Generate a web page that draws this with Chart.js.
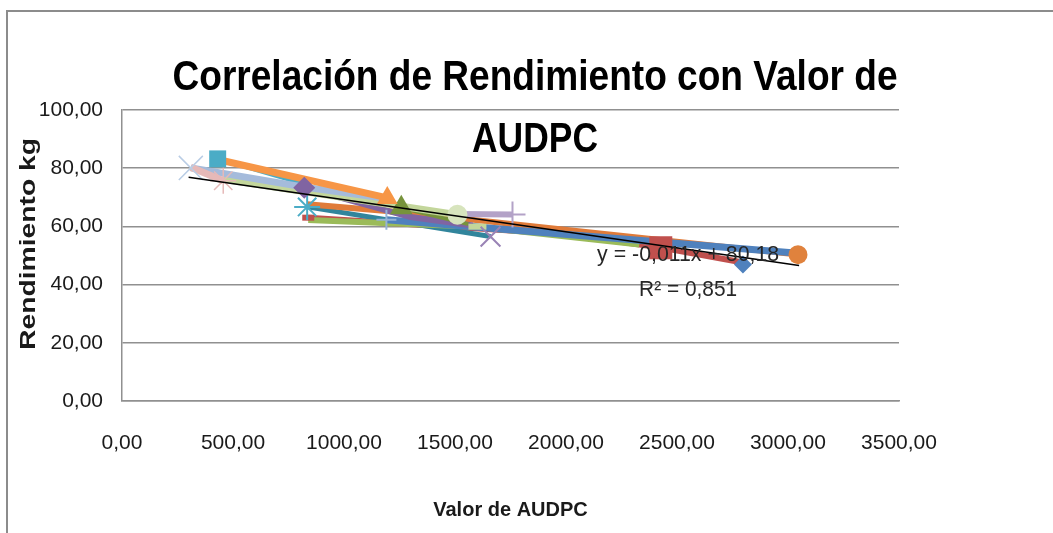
<!DOCTYPE html>
<html>
<head>
<meta charset="utf-8">
<script src="https://cdn.jsdelivr.net/npm/chart.js@4.4.1/dist/chart.umd.min.js"></script>
<style>
  html, body { margin: 0; padding: 0; background: #fff; }
</style>
</head>
<body>
<canvas id="scatterChart" width="1053" height="533"></canvas>
<script>
// AUDPC (x) and rendimiento kg (y) for each treatment line, bottom to top
var audpcSeries = [
  [839, 2000, 2427, 2797],
  [834, 1660],
  [839, 1601, 2330],
  [834, 1258, 3045],
  [1191, 3045],
  [821, 1300, 1580],
  [1258, 1560],
  [1660],
  [2797],
  [1511, 1759],
  [456, 1511],
  [431, 821],
  [310, 821, 1195],
  [310, 456],
  [431, 1195]
];
var rendSeries = [
  [63.0, 57.4, 52.7, 47.6],
  [66.7, 56.5],
  [62.2, 59.9, 53.8],
  [67.6, 64.9, 50.3],
  [62.3, 50.8],
  [73.3, 63.2, 60.3],
  [66.4, 60.8],
  [56.5],
  [46.9],
  [64.3, 64.1],
  [76.2, 64.0],
  [83.2, 74.5],
  [80.1, 73.5, 69.6],
  [80.3, 75.7],
  [83.0, 69.8]
];

// linear trend drawn in the sheet
var trendAudpc = [300, 3050];
var trendRend = [76.9, 46.6];

var xTicks = [0, 500, 1000, 1500, 2000, 2500, 3000, 3500];
var yTicks = [0, 20, 40, 60, 80, 100];

// look of each series (same order as above)
var seriesStyles = [
  {line: '#C0504D', width: 6, marker: ['line', 'rect', 'rect', 'rect'], radius: [6, 0, 12, 0], color: '#C0504D', border: 6},
  {line: '#31859C', width: 5, marker: 'star', radius: [13, 0], color: '#4BACC6', border: 2},
  {line: '#9BBB59', width: 6, marker: 'line', radius: [0, 9, 0], color: '#C3D69B', border: 6},
  {line: '#E07B39', width: 6, marker: 'circle', radius: [0, 0, 9.5], color: '#E0823D', border: 0},
  {line: '#4F81BD', width: 7, marker: 'cross', radius: [10, 0], color: '#95B3D7', border: 2},
  {line: '#8064A2', width: 6, marker: 'rectRot', radius: [11, 0, 0], color: '#8064A2', border: 0},
  {line: '#77933C', width: 4, marker: 'triangle', radius: [13, 0], color: '#77933C', border: 0},
  {line: null, width: 0, marker: 'crossRot', radius: [14], color: '#9983B5', border: 2},
  {line: null, width: 0, marker: 'rectRot', radius: [9], color: '#4F81BD', border: 0},
  {line: '#B3A2C7', width: 6, marker: 'cross', radius: [0, 13], color: '#B3A2C7', border: 2},
  {line: '#C3D69B', width: 7, marker: 'circle', radius: [0, 10], color: '#D7E4BD', border: 0},
  {line: '#4BACC6', width: 4, marker: 'rect', radius: [12, 0], color: '#4BACC6', border: 0},
  {line: '#A5BBDB', width: 7, marker: 'crossRot', radius: [17, 0, 0], color: '#B9CDE5', border: 1.5},
  {line: '#E6B9B8', width: 7, marker: 'star', radius: [0, 13], color: '#E6B9B8', border: 1.5},
  {line: '#F79646', width: 7, marker: 'triangle', radius: [0, 12], color: '#F79646', border: 0}
];

function toPoints(xs, ys) {
  var pts = [];
  for (var i = 0; i < xs.length; i++) pts.push({x: xs[i], y: ys[i]});
  return pts;
}

function fmt(v) {
  return v.toFixed(2).replace('.', ',');
}

var datasets = [{
  data: toPoints(trendAudpc, trendRend),
  showLine: true,
  borderColor: '#000000',
  borderWidth: 1.5,
  pointRadius: 0,
  order: 0
}];

audpcSeries.forEach(function(xs, i) {
  var st = seriesStyles[i];
  var pts = toPoints(xs, rendSeries[i]);
  if (st.line) {
    datasets.push({
      data: pts,
      showLine: true,
      borderColor: st.line,
      borderWidth: st.width,
      borderCapStyle: 'butt',
      pointRadius: 0,
      order: 100 - i
    });
  }
  var hollow = st.marker === 'star' || st.marker === 'cross' || st.marker === 'crossRot' || st.marker === 'line';
  datasets.push({
    data: pts,
    showLine: false,
    pointStyle: st.marker,
    pointRadius: st.radius,
    pointBackgroundColor: st.color,
    pointBorderColor: st.color,
    pointBorderWidth: hollow || Array.isArray(st.marker) ? st.border : 0,
    order: 50 - i
  });
});

function drawFitted(ctx, text, cx, y, font, width) {
  ctx.save();
  ctx.font = font;
  var w = ctx.measureText(text).width;
  ctx.translate(cx, y);
  ctx.scale(width / w, 1);
  ctx.textAlign = 'center';
  ctx.fillText(text, 0, 0);
  ctx.restore();
}

var sheetPlugin = {
  id: 'sheet',
  beforeDraw: function(chart) {
    var ctx = chart.ctx;
    ctx.save();
    ctx.fillStyle = '#ffffff';
    ctx.fillRect(0, 0, chart.width, chart.height);
    ctx.strokeStyle = '#8c8c8c';
    ctx.lineWidth = 2;
    ctx.beginPath();
    ctx.moveTo(7, chart.height);
    ctx.lineTo(7, 11);
    ctx.lineTo(chart.width, 11);
    ctx.stroke();
    ctx.restore();
  },
  afterDraw: function(chart) {
    var ctx = chart.ctx;
    var xs = chart.scales.x, ys = chart.scales.y;
    ctx.save();
    ctx.fillStyle = '#000000';
    ctx.textBaseline = 'alphabetic';
    drawFitted(ctx, 'Correlación de Rendimiento con Valor de', 535, 90, 'bold 42px "Liberation Sans"', 725);
    drawFitted(ctx, 'AUDPC', 535, 152, 'bold 42px "Liberation Sans"', 126);

    // vertical axis title
    ctx.save();
    ctx.fillStyle = '#1a1a1a';
    ctx.textBaseline = 'middle';
    ctx.translate(29, 244);
    ctx.rotate(-Math.PI / 2);
    drawFitted(ctx, 'Rendimiento kg', 0, 0, 'bold 22px "Liberation Sans"', 212);
    ctx.restore();

    ctx.fillStyle = '#262626';
    ctx.textBaseline = 'middle';
    var ex = xs.getPixelForValue(2550);
    drawFitted(ctx, 'y = -0,011x + 80,18', ex, ys.getPixelForValue(50.3), '22px "Liberation Sans"', 182);
    drawFitted(ctx, 'R² = 0,851', ex, ys.getPixelForValue(38.3), '22px "Liberation Sans"', 98);
    ctx.restore();
  }
};

var ctx = document.getElementById('scatterChart').getContext('2d');
var chart = new Chart(ctx, {
  type: 'scatter',
  data: {datasets: datasets},
  options: {
    responsive: false,
    animation: false,
    layout: {padding: {left: 0, top: 110, right: 154, bottom: 0}},
    plugins: {legend: {display: false}, tooltip: {enabled: false}},
    scales: {
      x: {
        type: 'linear',
        min: 0,
        max: 3500,
        afterBuildTicks: function(scale) {
          scale.ticks = xTicks.map(function(v) { return {value: v}; });
        },
        afterFit: function(scale) { scale.height = 132; },
        grid: {display: false, drawTicks: false},
        border: {display: true, color: '#909090', width: 1.5},
        ticks: {
          padding: 30,
          color: '#1a1a1a',
          font: {family: 'Liberation Sans', size: 21},
          maxRotation: 0,
          callback: fmt
        },
        title: {
          display: true,
          text: 'Valor de AUDPC',
          color: '#1a1a1a',
          font: {family: 'Liberation Sans', size: 20, weight: 'bold'},
          padding: {top: 0, bottom: 11}
        }
      },
      y: {
        type: 'linear',
        min: 0,
        max: 100,
        afterBuildTicks: function(scale) {
          scale.ticks = yTicks.map(function(v) { return {value: v}; });
        },
        afterFit: function(scale) { scale.width = 122; },
        grid: {color: '#909090', lineWidth: 1.5, drawTicks: false},
        border: {display: true, color: '#909090', width: 1.5},
        ticks: {
          padding: 19,
          color: '#1a1a1a',
          font: {family: 'Liberation Sans', size: 21},
          callback: fmt
        },
        title: {display: false}
      }
    }
  },
  plugins: [sheetPlugin]
});
</script>
</body>
</html>
